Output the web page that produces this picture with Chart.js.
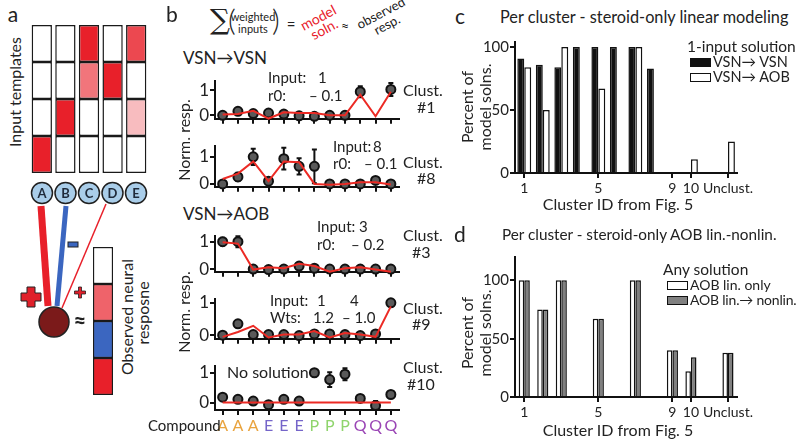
<!DOCTYPE html>
<html>
<head>
<meta charset="utf-8">
<script src="https://cdn.jsdelivr.net/npm/chart.js@4.4.1/dist/chart.umd.min.js"></script>
<style>
body { margin:0; background:#fff; width:800px; height:444px; overflow:hidden; position:relative; font-family:Lato, Roboto, sans-serif; color:#222; }
canvas, svg { position:absolute; }
.t { position:absolute; white-space:nowrap; line-height:1; font-size:15px; }
.cc { transform:translate(-50%,-50%); }
.rv { transform:translate(-50%,-50%) rotate(-90deg); }
.lc { transform:translateY(-50%); }
.big { font-size:21px; }
.sw { position:absolute; width:19px; height:7px; border:1.5px solid #111; }
</style>
</head>
<body>

<!-- panel a -->
<div class="t cc big" style="left:13px;top:13px">a</div>
<div class="t rv" style="left:15px;top:92px;font-size:16px">Input templates</div>
<canvas id="templates" width="122" height="152" style="left:28px;top:23px"></canvas>
<canvas id="observed" width="24" height="152" style="left:91px;top:245px"></canvas>
<div class="t rv" style="left:127px;top:317px;font-size:16px">Observed neural</div>
<div class="t rv" style="left:143px;top:313px;font-size:16px">resposne</div>
<svg width="160" height="444" style="left:0;top:0">
  <line x1="41" y1="206" x2="48" y2="306" stroke="#e8202a" stroke-width="7"/>
  <line x1="66" y1="206" x2="57" y2="306" stroke="#3b66c0" stroke-width="5"/>
  <line x1="106" y1="204" x2="62" y2="308" stroke="#e8202a" stroke-width="1.5"/>
  <rect x="68" y="242" width="10" height="5" fill="#3b66c0" stroke="#222" stroke-width="1"/>
  <path d="M27 287h8v6h6v8h-6v6h-8v-6h-6v-8h6z" fill="#e0202a" stroke="#222" stroke-width="1"/>
  <path d="M78.5 287h3v4h4v3h-4v4h-3v-4h-4v-3h4z" fill="#e0202a" stroke="#222" stroke-width="0.8"/>
  <circle cx="54" cy="322" r="15" fill="#7b1a1a" stroke="#222" stroke-width="1.5"/>
  <text x="80" y="329" font-size="22" font-weight="bold" text-anchor="middle" fill="#222">≈</text>
  <g id="inputCircles"></g>
</svg>

<!-- panel b -->
<div class="t cc big" style="left:172px;top:13px">b</div>
<div class="t" style="left:210px;top:6px;font-size:28px;font-family:'DejaVu Serif',serif">∑</div>
<div class="t" style="left:228px;top:4px;font-size:30px;font-weight:300">(</div>
<div class="t cc" style="left:253px;top:16px;font-size:11px">weighted</div>
<div class="t cc" style="left:253px;top:28px;font-size:11px">inputs</div>
<div class="t" style="left:272px;top:4px;font-size:30px;font-weight:300">)</div>
<div class="t cc" style="left:291px;top:24px;font-size:15px">=</div>
<div class="t cc" style="left:321px;top:23px;transform:translate(-50%,-50%) rotate(-28deg);color:#e8202a;font-size:14px;text-align:center;line-height:13px">model<br>soln.</div>
<div class="t cc" style="left:345px;top:26px;font-size:14px">≈</div>
<div class="t cc" style="left:384px;top:19px;transform:translate(-50%,-50%) rotate(-28deg);font-size:13px;text-align:center;line-height:13px">observed<br>resp.</div>

<div class="t lc" style="left:183px;top:57px;font-size:17px">VSN→VSN</div>
<div class="t lc" style="left:183px;top:213px;font-size:17px">VSN→AOB</div>
<div class="t rv" style="left:184px;top:140px;font-size:16px">Norm. resp.</div>
<div class="t rv" style="left:184px;top:312px;font-size:16px">Norm. resp.</div>

<canvas id="clust1" width="225" height="60" style="left:180px;top:70px"></canvas>
<canvas id="clust8" width="225" height="63" style="left:180px;top:135px"></canvas>
<canvas id="clust3" width="225" height="58" style="left:180px;top:225px"></canvas>
<canvas id="clust9" width="225" height="62" style="left:180px;top:288px"></canvas>
<canvas id="clust10" width="225" height="81" style="left:180px;top:355px"></canvas>

<div class="t lc" style="left:268px;top:77px">Input:</div>
<div class="t lc" style="left:318px;top:77px">1</div>
<div class="t lc" style="left:268px;top:95px">r0:</div>
<div class="t lc" style="left:309px;top:95px">– 0.1</div>
<div class="t lc" style="left:403px;top:90px;font-size:16px">Clust.</div>
<div class="t lc" style="left:417px;top:107px;font-size:16px">#1</div>

<div class="t lc" style="left:333px;top:146px">Input:</div>
<div class="t lc" style="left:373px;top:146px">8</div>
<div class="t lc" style="left:333px;top:163px">r0:</div>
<div class="t lc" style="left:364px;top:163px">– 0.1</div>
<div class="t lc" style="left:403px;top:162px;font-size:16px">Clust.</div>
<div class="t lc" style="left:417px;top:178px;font-size:16px">#8</div>

<div class="t lc" style="left:317px;top:226px">Input:</div>
<div class="t lc" style="left:359px;top:226px">3</div>
<div class="t lc" style="left:317px;top:244px">r0:</div>
<div class="t lc" style="left:351px;top:244px">– 0.2</div>
<div class="t lc" style="left:403px;top:235px;font-size:16px">Clust.</div>
<div class="t lc" style="left:412px;top:252px;font-size:16px">#3</div>

<div class="t lc" style="left:270px;top:300px">Input:</div>
<div class="t lc" style="left:317px;top:300px">1</div>
<div class="t lc" style="left:350px;top:300px">4</div>
<div class="t lc" style="left:270px;top:317px">Wts:</div>
<div class="t lc" style="left:313px;top:317px">1.2</div>
<div class="t lc" style="left:342px;top:317px">– 1.0</div>
<div class="t lc" style="left:403px;top:308px;font-size:16px">Clust.</div>
<div class="t lc" style="left:412px;top:324px;font-size:16px">#9</div>

<div class="t lc" style="left:227px;top:372px;font-size:16px">No solution</div>
<div class="t lc" style="left:403px;top:367px;font-size:16px">Clust.</div>
<div class="t lc" style="left:407px;top:384px;font-size:16px">#10</div>

<div class="t lc" style="left:148px;top:425px">Compound</div>

<!-- panel c -->
<div class="t cc big" style="left:460px;top:15px">c</div>
<div class="t lc" style="left:500px;top:17px;font-size:16.3px">Per cluster - steroid-only linear modeling</div>
<div class="t rv" style="left:467px;top:107px;font-size:16px">Percent of</div>
<div class="t rv" style="left:485px;top:107px;font-size:16px">model solns.</div>
<canvas id="chartC" width="279" height="165" style="left:476px;top:32px"></canvas>
<div class="t cc" style="left:618px;top:204px;font-size:16px">Cluster ID from Fig. 5</div>
<div class="t lc" style="left:687px;top:47px;font-size:15.5px">1-input solution</div>
<div class="sw" style="left:690px;top:58px;background:#111"></div>
<div class="t lc" style="left:713px;top:62px;font-size:14.5px">VSN→ VSN</div>
<div class="sw" style="left:690px;top:73px;background:#fff"></div>
<div class="t lc" style="left:713px;top:77px;font-size:14.5px">VSN→ AOB</div>

<!-- panel d -->
<div class="t cc big" style="left:460px;top:233px">d</div>
<div class="t lc" style="left:502px;top:235px;font-size:15.3px">Per cluster - steroid-only AOB lin.-nonlin.</div>
<div class="t rv" style="left:467px;top:333px;font-size:16px">Percent of</div>
<div class="t rv" style="left:485px;top:333px;font-size:16px">model solns.</div>
<canvas id="chartD" width="279" height="174" style="left:476px;top:247px"></canvas>
<div class="t cc" style="left:618px;top:430px;font-size:16px">Cluster ID from Fig. 5</div>
<div class="t lc" style="left:663px;top:270px;font-size:15.5px">Any solution</div>
<div class="sw" style="left:667px;top:281px;background:#fff"></div>
<div class="t lc" style="left:690px;top:285px;font-size:14px">AOB lin. only</div>
<div class="sw" style="left:667px;top:296px;background:#808080"></div>
<div class="t lc" style="left:690px;top:300px;font-size:14px;letter-spacing:-0.2px">AOB lin.→ nonlin.</div>

<script>
// ---- panel a: template weights (rows listed bottom to top, one value per input A..E)
const inputIds = ['A', 'B', 'C', 'D', 'E'];
const templateWeights = [
  [1, 0, 0, 0, 0],
  [0, 1, 0, 0, 0.3],
  [0, 0, 0.62, 1, 0],
  [0, 0, 1, 0, 0.82]
];
// observed response cells, bottom to top (negative = inhibited)
const observedWeights = [1, -1, 0.7, 0];

// ---- panel b: compounds and per-cluster responses
const compounds = ['A', 'A', 'A', 'E', 'E', 'E', 'P', 'P', 'P', 'Q', 'Q', 'Q'];
const compoundColors = { A: '#e9a43f', E: '#7565c9', P: '#8fd46c', Q: '#9a45b5' };

const clust1Obs   = [0.0, 0.16, 0.07, 0.09, 0.05, -0.02, -0.04, 0.0, 0.0, 0.94, null, 1.03];
const clust1Err   = [0.05, 0.06, 0.05, 0.1, 0.05, 0.04, 0.04, 0.03, 0.03, 0.22, 0, 0.26];
const clust1Model = [0.03, 0.05, 0.18, -0.13, 0.12, 0.09, 0.09, 0.0, 0.0, 0.82, -0.04, 0.94];

const clust8Obs   = [0.0, 0.26, 1.0, 0.1, 0.93, 0.65, 0.65, 0.0, 0.0, 0.0, 0.13, 0.0];
const clust8Err   = [0.03, 0.15, 0.3, 0.05, 0.4, 0.3, 0.62, 0.03, 0.03, 0.03, 0.07, 0.03];
const clust8Model = [0.18, 0.38, 0.83, 0.1, 0.83, 0.8, 0.0, -0.03, 0.0, 0.06, 0.06, -0.02];

const clust3Obs   = [1.0, 1.0, 0.0, -0.02, 0.0, 0.11, 0.03, 0.0, 0.0, 0.0, 0.0, 0.0];
const clust3Err   = [0.14, 0.2, 0.04, 0.04, 0.03, 0.04, 0.03, 0.03, 0.03, 0.03, 0.03, 0.04];
const clust3Model = [0.98, 0.93, -0.02, 0.07, 0.03, 0.19, 0.11, -0.1, 0.03, 0.07, -0.02, -0.1];

const clust9Obs   = [0.0, 0.35, 0.02, 0.02, 0.02, -0.01, 0.04, 0.04, 0.02, -0.01, 0.04, 1.0];
const clust9Err   = [0.03, 0.03, 0.03, 0.03, 0.03, 0.03, 0.03, 0.03, 0.03, 0.03, 0.03, 0.03];
const clust9Model = [-0.05, 0.1, 0.29, -0.07, 0.02, 0.02, 0.13, -0.07, 0.07, 0.02, -0.05, 0.89];

const clust10Obs   = [0.18, 0.11, 0.05, -0.07, 0.11, 0.05, 1.0, 0.77, 0.95, 0.14, -0.1, 0.27];
const clust10Err   = [0.04, 0.04, 0.04, 0.12, 0.06, 0.04, 0.12, 0.25, 0.2, 0.1, 0.15, 0.03];
const clust10Model = [0, 0, 0, 0, 0, 0, 0, 0, 0, 0, 0, 0];

// ---- panels c, d: percent of model solutions per cluster
const clusterIds = ['1', '2', '3', '4', '5', '6', '7', '8', '9', '10', '', 'Unclust.'];
const labelledIds = ['1', '5', '9', '10', 'Unclust.'];
const vsnToVsn = [91, 86, 84, 100, 100, 100, 100, 83, 0, 0, null, 0];
const vsnToAob = [84, 50, 100, 0, 67, 0, 100, 0, 0, 11, null, 25];
const aobLinOnly   = [100, 75, 100, 0, 67, 0, 100, 0, 40, 22, null, 38];
const aobLinNonlin = [100, 75, 100, 0, 67, 0, 100, 0, 40, 34, null, 38];

Chart.defaults.font.family = 'Lato, Roboto, sans-serif';
Chart.defaults.color = '#222';

function weightColor(w) {
  const to = w >= 0 ? [232, 32, 42] : [59, 102, 192];
  const a = Math.abs(w);
  return 'rgb(' + to.map(c => Math.round(255 - (255 - c) * a)).join(',') + ')';
}

const base = {
  responsive: false, animation: false, devicePixelRatio: 1,
  plugins: { legend: { display: false }, tooltip: { enabled: false } }
};

// cells of panel a as stacked bars
function cellChart(id, labels, rows, barPct) {
  new Chart(document.getElementById(id), {
    type: 'bar',
    data: {
      labels: labels,
      datasets: rows.map(row => ({
        data: row.map(() => 1),
        backgroundColor: row.map(weightColor),
        borderColor: '#1a1a1a', borderWidth: 1.5, borderSkipped: false,
        barPercentage: barPct, categoryPercentage: 1
      }))
    },
    options: Object.assign({}, base, {
      layout: { padding: 2 },
      scales: {
        x: { stacked: true, display: false },
        y: { stacked: true, display: false, min: 0, max: rows.length }
      }
    })
  });
}
cellChart('templates', inputIds, templateWeights, 0.86);
cellChart('observed', ['obs'], observedWeights.map(w => [w]), 1);

// letter circles under the templates
(function () {
  const g = document.getElementById('inputCircles');
  const cx = [42, 65.5, 89, 112.5, 136];
  inputIds.forEach((id, i) => {
    g.innerHTML += `<circle cx="${cx[i]}" cy="193" r="10.5" fill="#a9cde9" stroke="#1f1f1f" stroke-width="1.5"/>
      <text x="${cx[i]}" y="198" font-size="13" font-weight="bold" text-anchor="middle" fill="#1f2a3a" font-family="Lato">${id}</text>`;
  });
})();

// error bars drawn from the dataset's errors array through the y scale
const errorBars = {
  id: 'errorBars',
  beforeDatasetsDraw(chart) {
    const ctx = chart.ctx, ys = chart.scales.y;
    chart.data.datasets.forEach((ds, di) => {
      if (!ds.errors) return;
      const meta = chart.getDatasetMeta(di);
      ctx.save();
      ctx.strokeStyle = '#111';
      ctx.lineWidth = 2;
      meta.data.forEach((pt, i) => {
        const v = ds.data[i], e = ds.errors[i];
        if (v == null || !e) return;
        const top = ys.getPixelForValue(v + e), bot = ys.getPixelForValue(v - e);
        ctx.beginPath();
        ctx.moveTo(pt.x, top); ctx.lineTo(pt.x, bot);
        ctx.moveTo(pt.x - 2.5, top); ctx.lineTo(pt.x + 2.5, top);
        ctx.moveTo(pt.x - 2.5, bot); ctx.lineTo(pt.x + 2.5, bot);
        ctx.stroke();
      });
      ctx.restore();
    });
  }
};

function respChart(id, obs, err, model, yMin, yMax, showLabels) {
  new Chart(document.getElementById(id), {
    type: 'line',
    data: {
      labels: compounds,
      datasets: [
        { data: model, borderColor: '#ec2a24', borderWidth: 2, pointRadius: 0, tension: 0, clip: false },
        { data: obs, errors: err, showLine: false, pointRadius: 4.5, pointBackgroundColor: '#5a5a5a',
          pointBorderColor: '#111', pointBorderWidth: 2, clip: false }
      ]
    },
    options: Object.assign({}, base, {
      layout: { padding: 0 },
      scales: {
        x: {
          offset: true,
          grid: { offset: false, drawOnChartArea: false, color: '#111', lineWidth: 2, tickLength: 5 },
          border: { color: '#111', width: 2 },
          ticks: { display: showLabels, autoSkip: false, maxRotation: 0, padding: 1,
                   font: { size: 16 }, color: c => compoundColors[compounds[c.index]] },
          afterFit: s => { s.height = showLabels ? 26 : 6; }
        },
        y: {
          min: yMin, max: yMax,
          afterBuildTicks: s => { s.ticks = [{ value: 0 }, { value: 1 }]; },
          grid: { drawOnChartArea: false, color: '#111', lineWidth: 2, tickLength: 5 },
          border: { color: '#111', width: 2 },
          ticks: { font: { size: 17 }, color: '#222', padding: 1 },
          afterFit: s => { s.width = 35; }
        }
      }
    }),
    plugins: [errorBars]
  });
}
respChart('clust1', clust1Obs, clust1Err, clust1Model, -0.14, 1.36, false);
respChart('clust8', clust8Obs, clust8Err, clust8Model, -0.105, 1.39, false);
respChart('clust3', clust3Obs, clust3Err, clust3Model, -0.1, 1.2, false);
respChart('clust9', clust9Obs, clust9Err, clust9Model, -0.11, 1.11, false);
respChart('clust10', clust10Obs, clust10Err, clust10Model, -0.25, 1.22, true);

function percentChart(id, sets, yMax, catPct) {
  new Chart(document.getElementById(id), {
    type: 'bar',
    data: {
      labels: clusterIds,
      datasets: sets.map(s => ({
        data: s.data, backgroundColor: s.color, borderColor: '#111', borderWidth: 1.5,
        borderSkipped: 'start', barPercentage: 1, categoryPercentage: catPct
      }))
    },
    options: Object.assign({}, base, {
      layout: { padding: 0 },
      scales: {
        x: {
          grid: { offset: false, drawOnChartArea: false, lineWidth: 2, tickLength: 5,
                  color: c => labelledIds.includes(clusterIds[c.index]) ? '#111' : 'rgba(0,0,0,0)' },
          border: { color: '#111', width: 2 },
          ticks: { autoSkip: false, maxRotation: 0, padding: 2, font: { size: 14 },
                   callback: (v, i) => labelledIds.includes(clusterIds[i]) ? clusterIds[i] : '' },
          afterFit: s => { s.height = 24; }
        },
        y: {
          min: 0, max: yMax,
          afterBuildTicks: s => { s.ticks = [{ value: 0 }, { value: 50 }, { value: 100 }]; },
          grid: { drawOnChartArea: false, color: '#111', lineWidth: 2, tickLength: 5 },
          border: { color: '#111', width: 2 },
          ticks: { font: { size: 15 }, padding: 1 },
          afterFit: s => { s.width = 39; }
        }
      }
    })
  });
}
percentChart('chartC', [
  { data: vsnToVsn, color: '#111' },
  { data: vsnToAob, color: '#fff' }
], 104, 0.75);
percentChart('chartD', [
  { data: aobLinOnly, color: '#fff' },
  { data: aobLinNonlin, color: '#808080' }
], 120, 0.6);
</script>
</body>
</html>
